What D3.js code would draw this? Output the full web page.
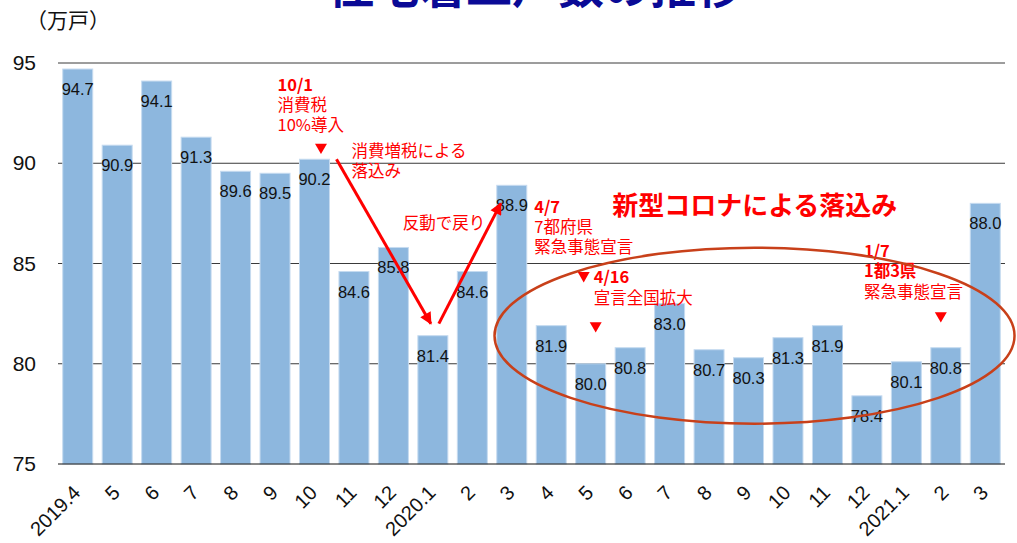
<!DOCTYPE html>
<html>
<head>
<meta charset="utf-8">
<script src="https://cdn.jsdelivr.net/npm/d3@7"></script>
<style>
  body { margin: 0; background: #fff; }
  svg { display: block; font-family: "Liberation Sans", Arial, "Noto Sans CJK JP", sans-serif; }
  .jp { font-family: "Noto Sans CJK JP", sans-serif; }
</style>
</head>
<body>
<svg id="chart"></svg>
<script>
// monthly housing starts (10k units, annualised)
const months = ["2019.4","5","6","7","8","9","10","11","12","2020.1","2","3",
                "4","5","6","7","8","9","10","11","12","2021.1","2","3"];
const starts = [94.7,90.9,94.1,91.3,89.6,89.5,90.2,84.6,85.8,81.4,84.6,88.9,
                81.9,80.0,80.8,83.0,80.7,80.3,81.3,81.9,78.4,80.1,80.8,88.0];
const yTicks = [75,80,85,90,95];

const width = 1017, height = 543;
const margin = {top: 63, right: 12, bottom: 79, left: 58};

const svg = d3.select("#chart")
    .attr("width", width)
    .attr("height", height);

const x = d3.scaleBand()
    .domain(d3.range(months.length))
    .range([margin.left, width - margin.right])
    .paddingInner(0.24)
    .paddingOuter(0.12);

const y = d3.scaleLinear()
    .domain([75, 95])
    .range([height - margin.bottom, margin.top]);

const xc = i => x(i) + x.bandwidth()/2;

// title (cut off at the top like the source slide)
svg.append("text")
    .attr("class", "jp")
    .attr("x", 535).attr("y", 3)
    .attr("text-anchor", "middle")
    .attr("font-size", 46)
    .attr("font-weight", "bold")
    .attr("fill", "#0a0a96")
    .text("住宅着工戸数の推移");

svg.append("text")
    .attr("class", "jp")
    .attr("x", 26).attr("y", 28)
    .attr("font-size", 21)
    .attr("fill", "#111")
    .text("（万戸）");

// gridlines
svg.append("g")
    .selectAll("line")
    .data(yTicks.slice(1))
    .join("line")
    .attr("x1", margin.left)
    .attr("x2", width - margin.right)
    .attr("y1", d => y(d))
    .attr("y2", d => y(d))
    .attr("stroke", "#3a3a3a")
    .attr("stroke-width", 1);

// y axis labels
svg.append("g")
    .attr("transform", `translate(${margin.left}, 0)`)
    .call(d3.axisLeft(y).tickValues(yTicks).tickSize(0).tickPadding(22))
    .call(g => g.select(".domain").remove())
    .call(g => g.selectAll("text")
        .attr("font-size", 21)
        .attr("font-family", "Liberation Sans, Arial, sans-serif")
        .attr("fill", "#111"));

// bars
svg.append("g")
    .selectAll("rect")
    .data(starts)
    .join("rect")
    .attr("x", (d, i) => x(i))
    .attr("y", d => y(d))
    .attr("width", x.bandwidth())
    .attr("height", d => y(75) - y(d))
    .attr("fill", "#8db7de")
    .attr("stroke", "#c6dbf0")
    .attr("stroke-width", 1);

// value labels
svg.append("g")
    .selectAll("text")
    .data(starts)
    .join("text")
    .attr("x", (d, i) => xc(i))
    .attr("y", d => y(d) + 26)
    .attr("text-anchor", "middle")
    .attr("font-size", 16.5)
    .attr("fill", "#111")
    .text(d => d.toFixed(1));

// x axis
svg.append("g")
    .attr("transform", `translate(0, ${y(75)})`)
    .call(d3.axisBottom(x).tickSize(0).tickFormat(i => months[i]))
    .call(g => g.select(".domain")
        .attr("d", `M${margin.left},0H${width - margin.right}`)
        .attr("stroke", "#111"))
    .call(g => g.selectAll(".tick text")
        .attr("font-size", 20)
        .attr("font-family", "Liberation Sans, Arial, sans-serif")
        .attr("fill", "#111")
        .attr("text-anchor", "end")
        .attr("dy", null)
        .attr("y", 0)
        .attr("transform", "translate(4, 30) rotate(-45)"));

// annotations
const red = "#ff0000";
const ann = svg.append("g").attr("class", "jp").attr("fill", red);

const notes = [
    {t: "10/1", i: 6, dx: -37, v: 93.9, bold: true},
    {t: "消費税", i: 6, dx: -37, v: 92.9},
    {t: "10%導入", i: 6, dx: -37, v: 91.9},
    {t: "消費増税による", i: 6, dx: 37, v: 90.6},
    {t: "落込み", i: 6, dx: 37, v: 89.6},
    {t: "反動で戻り", i: 9, dx: -30, v: 87.0},
    {t: "4/7", i: 12, dx: -17, v: 87.8, bold: true},
    {t: "7都府県", i: 12, dx: -17, v: 86.8},
    {t: "緊急事態宣言", i: 12, dx: -17, v: 85.8},
    {t: "4/16", i: 13, dx: 3, v: 84.3, bold: true},
    {t: "宣言全国拡大", i: 13, dx: 3, v: 83.3},
    {t: "1/7", i: 20, dx: -3, v: 85.6, bold: true},
    {t: "1都3県", i: 20, dx: -3, v: 84.6, bold: true},
    {t: "緊急事態宣言", i: 20, dx: -3, v: 83.6}
];

ann.selectAll("text.note")
    .data(notes)
    .join("text")
    .attr("class", "note")
    .attr("x", d => xc(d.i) + d.dx)
    .attr("y", d => y(d.v))
    .attr("dy", "0.36em")
    .attr("font-size", 16.5)
    .attr("font-weight", d => d.bold ? "bold" : "normal")
    .text(d => d.t);

ann.append("text")
    .attr("x", xc(14) - 18)
    .attr("y", y(87.9))
    .attr("dy", "0.36em")
    .attr("font-size", 26)
    .attr("font-weight", "bold")
    .text("新型コロナによる落込み");

// down triangles
const marks = [
    {i: 6, dx: 6.5, v: 90.8},
    {i: 13, dx: -7, v: 84.4},
    {i: 13, dx: 5, v: 81.9},
    {i: 22, dx: -5, v: 82.4}
];
ann.selectAll("path.mark")
    .data(marks)
    .join("path")
    .attr("class", "mark")
    .attr("d", d3.symbol(d3.symbolTriangle, 62))
    .attr("transform", d => `translate(${xc(d.i) + d.dx}, ${y(d.v)}) rotate(180)`);

// arrows
svg.append("defs").append("marker")
    .attr("id", "head")
    .attr("viewBox", "0 0 10 10")
    .attr("refX", 9).attr("refY", 5)
    .attr("markerWidth", 5).attr("markerHeight", 4)
    .attr("orient", "auto")
    .append("path")
    .attr("d", "M0,0L10,5L0,10Z")
    .attr("fill", red);

const arrows = [
    {i0: 6, dx0: 22, v0: 90.2, i1: 9, dx1: -2, v1: 82.0},
    {i0: 9, dx0: 6, v0: 82.0, i1: 11, dx1: -11, v1: 88.0}
];
svg.append("g")
    .selectAll("line")
    .data(arrows)
    .join("line")
    .attr("x1", d => xc(d.i0) + d.dx0)
    .attr("y1", d => y(d.v0))
    .attr("x2", d => xc(d.i1) + d.dx1)
    .attr("y2", d => y(d.v1))
    .attr("stroke", red)
    .attr("stroke-width", 3)
    .attr("marker-end", "url(#head)");

// ellipse around the covid dip
svg.append("ellipse")
    .attr("cx", xc(17) + 6)
    .attr("cy", y(81.4))
    .attr("rx", 260)
    .attr("ry", 88)
    .attr("fill", "none")
    .attr("stroke", "#c8401a")
    .attr("stroke-width", 2.5);
</script>
</body>
</html>
